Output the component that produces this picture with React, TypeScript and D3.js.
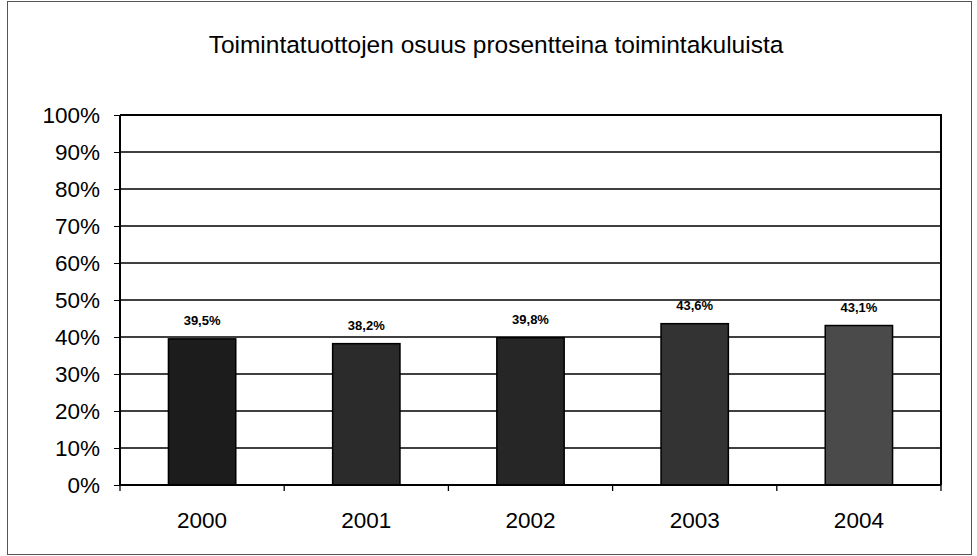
import React, { useEffect, useRef } from "react";
import * as d3 from "d3";

const title = "Toimintatuottojen osuus prosentteina toimintakuluista";
const years = ["2000", "2001", "2002", "2003", "2004"];
const shares = [39.5, 38.2, 39.8, 43.6, 43.1];
const yTicks = [0, 10, 20, 30, 40, 50, 60, 70, 80, 90, 100];
const barColors = ["#1c1c1c", "#2b2b2b", "#262626", "#333333", "#4a4a4a"];

const App = () => {
  const ref = useRef<SVGSVGElement>(null);

  useEffect(() => {
    const width = 977;
    const height = 556;
    const margin = { top: 115, right: 36, bottom: 71, left: 120 };
    const plotW = width - margin.left - margin.right;
    const plotH = height - margin.top - margin.bottom;
    const font = "'Liberation Sans', Arial, sans-serif";

    const svg = d3.select(ref.current);
    svg.selectAll("*").remove();

    svg
      .append("rect")
      .attr("x", 7.5)
      .attr("y", 1.5)
      .attr("width", 964)
      .attr("height", 553)
      .attr("fill", "#fff")
      .attr("stroke", "#555")
      .attr("stroke-width", 1);

    svg
      .append("text")
      .attr("x", 496)
      .attr("y", 53)
      .attr("text-anchor", "middle")
      .attr("font-family", font)
      .attr("font-size", 24.5)
      .text(title);

    const g = svg
      .append("g")
      .attr("transform", "translate(" + margin.left + "," + margin.top + ")");

    const x = d3.scaleBand().domain(years).range([0, plotW]).padding(0);
    const y = d3.scaleLinear().domain([0, 100]).range([plotH, 0]);

    // grid
    g.selectAll(".grid")
      .data(yTicks)
      .enter()
      .append("line")
      .attr("x1", 0)
      .attr("x2", plotW)
      .attr("y1", (d) => y(d))
      .attr("y2", (d) => y(d))
      .attr("stroke", "#000")
      .attr("stroke-width", 1.3);

    const barW = x.bandwidth() * 0.41;
    g.selectAll(".bar")
      .data(shares)
      .enter()
      .append("rect")
      .attr("x", (d, i) => x(years[i])! + (x.bandwidth() - barW) / 2)
      .attr("y", (d) => y(d))
      .attr("width", barW)
      .attr("height", (d) => plotH - y(d))
      .attr("fill", (d, i) => barColors[i])
      .attr("stroke", "#000")
      .attr("stroke-width", 1.5);

    g.selectAll(".val")
      .data(shares)
      .enter()
      .append("text")
      .attr("x", (d, i) => x(years[i])! + x.bandwidth() / 2)
      .attr("y", (d) => y(d) - 14)
      .attr("text-anchor", "middle")
      .attr("font-family", font)
      .attr("font-weight", "bold")
      .attr("font-size", 13)
      .text((d) => d.toFixed(1).replace(".", ",") + "%");

    // plot frame: top and right
    g.append("path")
      .attr("d", "M0,0H" + plotW + "V" + plotH)
      .attr("fill", "none")
      .attr("stroke", "#000")
      .attr("stroke-width", 2);

    const yAxis = d3
      .axisLeft(y)
      .tickValues(yTicks)
      .tickSize(6)
      .tickPadding(14)
      .tickFormat((d) => d + "%");
    const ya = g.append("g").call(yAxis);
    ya.select(".domain").attr("stroke-width", 2).attr("d", "M0,0V" + plotH);
    ya.selectAll("text")
      .attr("font-family", font)
      .attr("font-size", 22.5)
      .attr("fill", "#000");

    const xAxis = d3.axisBottom(x).tickSize(0).tickPadding(27);
    const xa = g
      .append("g")
      .attr("transform", "translate(0," + plotH + ")")
      .call(xAxis);
    xa.select(".domain").attr("stroke-width", 2).attr("d", "M0,0H" + plotW);
    xa.selectAll("text")
      .attr("font-family", font)
      .attr("font-size", 22.5)
      .attr("fill", "#000");

    // category separator ticks
    g.selectAll(".sep")
      .data(d3.range(years.length + 1))
      .enter()
      .append("line")
      .attr("x1", (d) => d * x.step())
      .attr("x2", (d) => d * x.step())
      .attr("y1", plotH)
      .attr("y2", plotH + 6)
      .attr("stroke", "#000")
      .attr("stroke-width", 1.3);
  }, []);

  return (
    <svg
      ref={ref}
      width={977}
      height={556}
      style={{ position: "absolute", left: 0, top: 0, display: "block" }}
    />
  );
};

export default App;
